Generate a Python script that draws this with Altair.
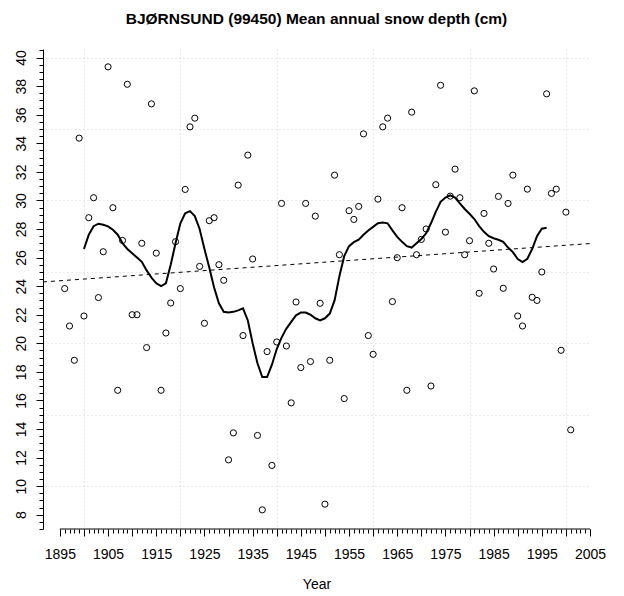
import altair as alt
import pandas as pd

# ---- data ----
years = list(range(1896, 2002))
depth = [23.83, 21.21, 18.81, 34.36, 21.91, 28.79, 30.19, 23.2, 26.41, 39.35,
         29.49, 16.71, 27.2, 38.13, 22.0, 22.0, 27.0, 19.7, 36.76, 26.31,
         16.71, 20.72, 22.82, 27.11, 23.83, 30.77, 35.15, 35.76, 25.38, 21.4,
         28.58, 28.79, 25.5, 24.41, 11.84, 13.73, 31.07, 20.54, 33.17, 25.9,
         13.55, 8.34, 19.42, 11.45, 20.09, 29.79, 19.81, 15.83, 22.89, 18.3,
         29.79, 18.72, 28.9, 22.8, 8.74, 18.81, 31.77, 26.2, 16.13, 29.28,
         28.67, 29.58, 34.66, 20.54, 19.23, 30.09, 35.15, 35.76, 22.92, 25.99,
         29.49, 16.71, 36.18, 26.2, 27.27, 28.0, 17.01, 31.1, 38.06, 27.78,
         30.3, 32.19, 30.19, 26.2, 27.18, 37.67, 23.5, 29.09, 27.0, 25.2,
         30.28, 23.85, 29.79, 31.77, 21.91, 21.21, 30.79, 23.22, 23.0, 24.99,
         37.46, 30.49, 30.79, 19.51, 29.18, 13.94]

smooth_years = list(range(1900, 1997))
smooth = [26.6, 27.6, 28.2, 28.37, 28.3, 28.18, 27.95, 27.6, 27.0, 26.6,
          26.3, 26.0, 25.7, 25.1, 24.6, 24.2, 24.0, 24.2, 25.5, 27.0,
          28.4, 29.1, 29.25, 28.9, 28.0, 26.6, 25.3, 23.9, 22.8, 22.2,
          22.15, 22.2, 22.3, 22.45, 21.6, 20.0, 18.6, 17.64, 17.64, 18.5,
          19.6, 20.4, 21.03, 21.5, 21.96, 22.15, 22.15, 22.0, 21.75, 21.6,
          21.75, 22.08, 23.0, 24.7, 26.1, 26.8, 27.08, 27.25, 27.6, 27.9,
          28.15, 28.4, 28.46, 28.4, 27.9, 27.45, 27.1, 26.8, 26.7, 27.0,
          27.3, 27.7, 28.4, 29.2, 29.9, 30.2, 30.35, 30.2, 29.8, 29.4,
          29.07, 28.7, 28.2, 27.8, 27.5, 27.35, 27.25, 27.1, 26.7, 26.38,
          25.9, 25.69, 25.92, 26.6, 27.5, 28.02, 28.09]

# axis / tick values
x_domain = [1891.5, 2005]
y_domain = [7.0, 40.6]
x_axis_span = [1895, 2005]
x_minor_ticks = list(range(1895, 2006))
x_major_ticks = list(range(1895, 2006, 5))
x_grid = [1900, 1920, 1940, 1960, 1980, 2000]
y_minor_ticks = [v / 2 for v in range(14, 82)]
y_major_ticks = list(range(8, 41, 2))
y_grid = [10, 15, 20, 25, 30, 35, 40]

FONT = "Liberation Sans"

df = pd.DataFrame({"year": years, "depth": depth})
sdf = pd.DataFrame({"year": smooth_years, "smooth": smooth})
adf = pd.DataFrame({"x": [x_axis_span[0]], "x2": [x_axis_span[1]]})

xs = alt.Scale(domain=x_domain, nice=False, zero=False)
ys = alt.Scale(domain=y_domain, nice=False, zero=False)

grid_axis_x = alt.Axis(orient="bottom", values=x_grid, grid=True, ticks=False, labels=False,
                       domain=False, title=None, gridColor="#d3d3d3", gridDash=[1, 3], gridWidth=1)
grid_axis_y = alt.Axis(orient="left", values=y_grid, grid=True, ticks=False, labels=False,
                       domain=False, title=None, gridColor="#d3d3d3", gridDash=[1, 3], gridWidth=1)

trend = alt.Chart(df).transform_regression(
    "year", "depth", extent=x_domain
).mark_line(color="black", strokeWidth=1, strokeDash=[4, 4]).encode(
    x=alt.X("year:Q", scale=xs, axis=grid_axis_x),
    y=alt.Y("depth:Q", scale=ys, axis=grid_axis_y),
)

points = alt.Chart(df).mark_point(shape="circle", filled=False, color="black",
                                  size=38, strokeWidth=1, opacity=1).encode(
    x=alt.X("year:Q", scale=xs,
            axis=alt.Axis(orient="bottom", values=x_minor_ticks, tickSize=4, labels=False,
                          domain=False, grid=False, title=None, tickColor="black")),
    y=alt.Y("depth:Q", scale=ys,
            axis=alt.Axis(orient="left", values=y_minor_ticks, tickSize=4, labels=False,
                          domain=True, domainColor="black", grid=False, title=None,
                          tickColor="black")),
)

smooth_line = alt.Chart(sdf).mark_line(color="black", strokeWidth=2).encode(
    x=alt.X("year:Q", scale=xs,
            axis=alt.Axis(orient="bottom", values=x_major_ticks, tickSize=7, domain=False,
                          grid=False, title="Year", tickColor="black",
                          labelExpr="(datum.value - 1895) % 10 == 0 ? datum.label : ''",
                          labelPadding=11, titlePadding=16, format="d",
                          labelFlush=False, labelOverlap=False)),
    y=alt.Y("smooth:Q", scale=ys,
            axis=alt.Axis(orient="left", values=y_major_ticks, tickSize=7, domain=False,
                          grid=False, title=None, tickColor="black", labelAngle=270,
                          labelAlign="center", labelBaseline="bottom", labelPadding=8,
                          labelFlush=False, labelOverlap=False)),
)

axis_line = alt.Chart(adf).mark_rule(color="black", strokeWidth=1).encode(
    x=alt.X("x:Q", scale=xs, axis=None),
    x2="x2:Q",
    y=alt.Y(datum=y_domain[0], type="quantitative", scale=ys, axis=None),
)

chart = alt.layer(trend, points, smooth_line, axis_line).resolve_axis(
    x="independent", y="independent"
).properties(
    width=547,
    height=480,
    padding={"left": 5, "top": 3, "right": 5, "bottom": 0},
    title=alt.TitleParams(
        "BJØRNSUND (99450) Mean annual snow depth (cm)",
        font=FONT, fontSize=15.5, fontWeight="bold", color="black",
        anchor="middle", offset=22,
    ),
).configure_view(stroke=None).configure_axis(
    labelFont=FONT, labelFontSize=14, labelColor="black",
    titleFont=FONT, titleFontSize=14, titleFontWeight="normal", titleColor="black",
    tickColor="black", domainColor="black",
)

chart.save("out.html", embed_options={"renderer": "svg", "actions": False})
